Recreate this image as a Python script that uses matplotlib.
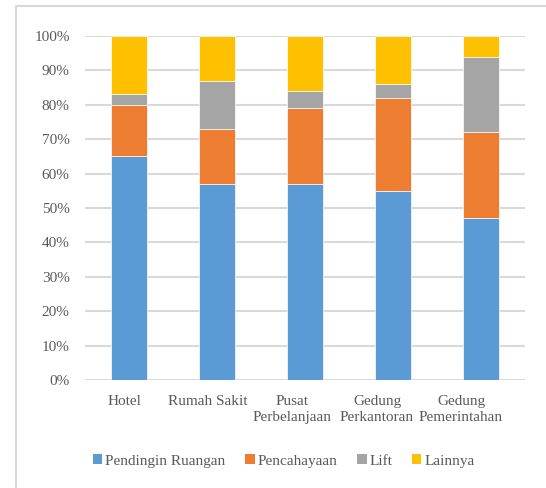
import matplotlib
matplotlib.use('AGG')
import matplotlib.pyplot as plt
import matplotlib.transforms as mtransforms
import numpy as np
from matplotlib.lines import Line2D
from matplotlib.patches import Patch

categories = ['Hotel', 'Rumah Sakit', 'Pusat\nPerbelanjaan', 'Gedung\nPerkantoran', 'Gedung\nPemerintahan']
pendingin = [65, 57, 57, 55, 47]
pencahayaan = [15, 16, 22, 27, 25]
lift = [3, 14, 5, 4, 22]
lainnya = [17, 13, 16, 14, 6]

series_names = ['Pendingin Ruangan', 'Pencahayaan', 'Lift', 'Lainnya']
colors = ['#5b9bd5', '#ed7d31', '#a5a5a5', '#ffc000']

plt.rcParams['font.family'] = ['Liberation Serif', 'DejaVu Serif']
text_color = '#595959'

fig = plt.figure(figsize=(5.46, 4.88), dpi=100)
ax = fig.add_axes([85 / 546, 1 - 380 / 488, 440 / 546, 344 / 488])

x = np.arange(len(categories))
bottom = np.zeros(len(categories))
for vals, name, c in zip([pendingin, pencahayaan, lift, lainnya], series_names, colors):
    ax.bar(x, vals, 0.4, bottom=bottom, color=c, label=name, zorder=3,
           edgecolor='white', linewidth=0.5)
    bottom += np.array(vals)

ax.set_xlim(-0.5, len(categories) - 0.5)
ax.set_ylim(0, 100)
ax.set_yticks(np.arange(0, 101, 10))
ax.set_yticklabels([f'{v}%' for v in range(0, 101, 10)])
ax.set_xticks(x)
ax.set_xticklabels(categories, linespacing=1.25)
ax.grid(axis='y', color='#d9d9d9', linewidth=1.5, zorder=0)
for s in ax.spines.values():
    s.set_visible(False)
ax.tick_params(length=0, labelsize=11, colors=text_color)
ax.tick_params(axis='x', pad=11)
ax.tick_params(axis='y', pad=11)

# category labels sit a little left of the bars, like in the original
shifts = [-5, -9, -13, -16, -20]
for lbl, dx in zip(ax.get_xticklabels(), shifts):
    lbl.set_transform(lbl.get_transform() +
                      mtransforms.ScaledTranslation(dx / 100, 0, fig.dpi_scale_trans))

handles = [Patch(facecolor=c, edgecolor='none') for c in colors]
fig.legend(handles, series_names, loc='center', bbox_to_anchor=(0.52, 1 - 461 / 488),
           ncol=4, frameon=False, fontsize=11, handlelength=0.6, handleheight=0.6,
           handletextpad=0.2, columnspacing=1.3, labelcolor=text_color)

# outer chart frame (left and top edges visible)
fig.add_artist(Line2D([16 / 546, 16 / 546], [0, 1 - 6 / 488], transform=fig.transFigure,
                      color='#d9d9d9', linewidth=1.5))
fig.add_artist(Line2D([16 / 546, 1], [1 - 6 / 488, 1 - 6 / 488], transform=fig.transFigure,
                      color='#d9d9d9', linewidth=1.5))

plt.savefig('out.png', dpi=100, facecolor='white')
